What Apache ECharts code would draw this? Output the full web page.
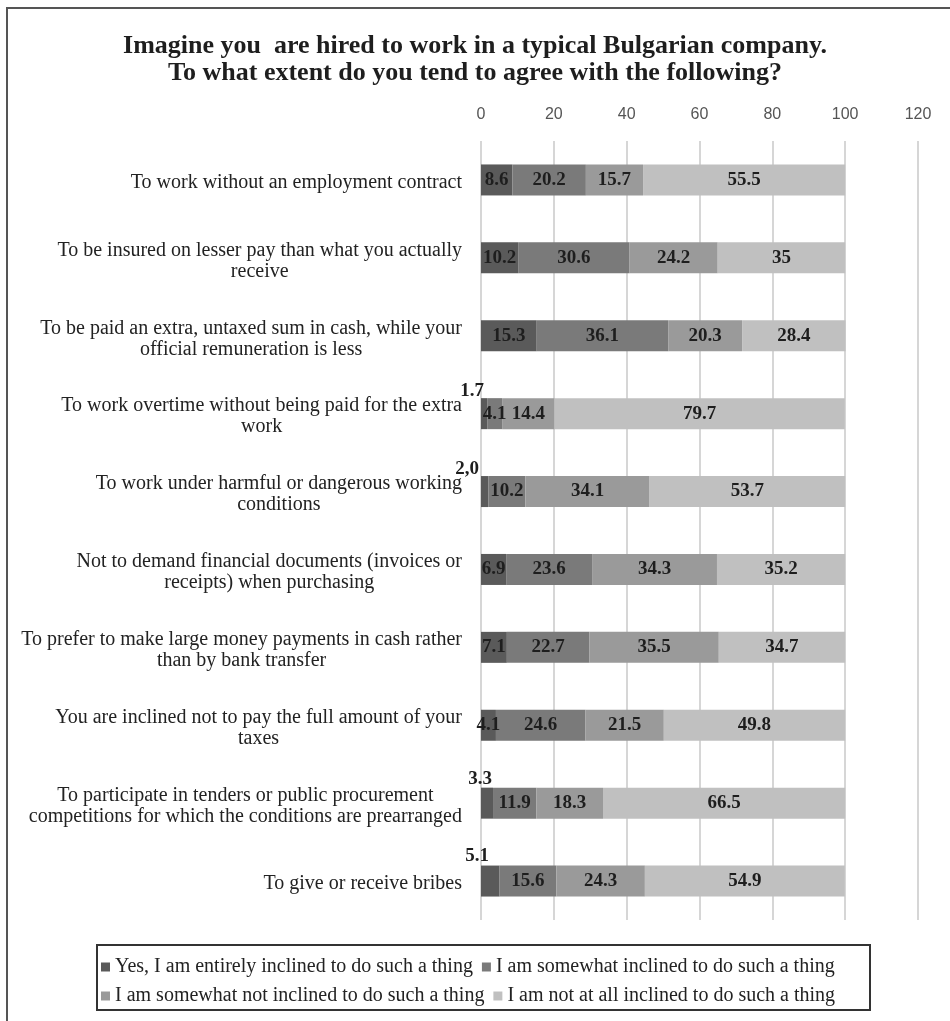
<!DOCTYPE html>
<html>
<head>
<meta charset="utf-8">
<script src="https://cdn.jsdelivr.net/npm/echarts@6/dist/echarts.min.js"></script>
<style>html,body{margin:0;padding:0;background:#fff;}#chart{width:950px;height:1021px;}</style>
</head>
<body>
<div id="chart"></div>
<script>
const categories = [
  'To work without an employment contract',
  'To be insured on lesser pay than what you actually\nreceive',
  'To be paid an extra, untaxed sum in cash, while your\nofficial remuneration is less',
  'To work overtime without being paid for the extra\nwork',
  'To work under harmful or dangerous working\nconditions',
  'Not to demand financial documents (invoices or\nreceipts) when purchasing',
  'To prefer to make large money payments in cash rather\nthan by bank transfer',
  'You are inclined not to pay the full amount of your\ntaxes',
  'To participate in tenders or public procurement\ncompetitions for which the conditions are prearranged',
  'To give or receive bribes'
];
const seriesNames = [
  'Yes, I am entirely inclined to do such a thing',
  'I am somewhat inclined to do such a thing',
  'I am somewhat not inclined to do such a thing',
  'I am not at all inclined to do such a thing'
];
const entirelyInclined = [8.6, 10.2, 15.3, 1.7, 2.0, 6.9, 7.1, 4.1, 3.3, 5.1];
const entirelyInclinedLabels = ['8.6', '10.2', '15.3', '1.7', '2,0', '6.9', '7.1', '4.1', '3.3', '5.1'];
const somewhatInclined = [20.2, 30.6, 36.1, 4.1, 10.2, 23.6, 22.7, 24.6, 11.9, 15.6];
const somewhatNotInclined = [15.7, 24.2, 20.3, 14.4, 34.1, 34.3, 35.5, 21.5, 18.3, 24.3];
const notAtAllInclined = [55.5, 35, 28.4, 79.7, 53.7, 35.2, 34.7, 49.8, 66.5, 54.9];
const xTicks = { min: 0, max: 120, interval: 20 };

const colors = ['#5a5a5a', '#7a7a7a', '#9a9a9a', '#c0c0c0'];
const SERIF = '"Liberation Serif", "Times New Roman", serif';
const labelFont = { fontFamily: SERIF, fontWeight: 'bold', fontSize: 19, color: '#1e1e1e' };

// label placement (style) for small first-segment values drawn above the bar
const aboveLabelPos = { 3: [-9, -7], 4: [-14, -7], 8: [-1, -9], 9: [-4, -9] };

const allValues = [entirelyInclined, somewhatInclined, somewhatNotInclined, notAtAllInclined];

const series = allValues.map((vals, si) => ({
  name: seriesNames[si],
  type: 'bar',
  stack: 'total',
  barWidth: 31,
  itemStyle: { color: colors[si] },
  label: Object.assign({
    show: true,
    position: 'inside',
    formatter: si === 0 ? (p => entirelyInclinedLabels[p.dataIndex]) : (p => String(p.value))
  }, labelFont),
  data: vals.map((v, i) => {
    if (si === 0 && aboveLabelPos[i]) {
      return {
        value: v,
        label: { position: aboveLabelPos[i], align: 'center', verticalAlign: 'middle' }
      };
    }
    return v;
  })
}));

const chart = echarts.init(document.getElementById('chart'), null, { renderer: 'canvas' });
chart.setOption({
  animation: false,
  backgroundColor: '#ffffff',
  title: {
    text: 'Imagine you  are hired to work in a typical Bulgarian company.\nTo what extent do you tend to agree with the following?',
    left: 'center',
    top: 28,
    textStyle: { fontFamily: SERIF, fontWeight: 'bold', fontSize: 26, lineHeight: 27, color: '#1e1e1e', align: 'center' }
  },
  grid: { left: 481, right: 32, top: 141, bottom: 101, containLabel: false },
  xAxis: {
    type: 'value',
    position: 'top',
    min: xTicks.min, max: xTicks.max, interval: xTicks.interval,
    axisLine: { show: false },
    axisTick: { show: false },
    axisLabel: { margin: 18, fontFamily: '"Liberation Sans", Arial, sans-serif', fontSize: 16, color: '#555' },
    splitLine: { show: true, lineStyle: { color: '#d6d6d6', width: 2 } }
  },
  yAxis: {
    type: 'category',
    inverse: true,
    data: categories,
    axisLine: { show: false },
    axisTick: { show: false },
    axisLabel: {
      margin: 19,
      align: 'right',
      padding: [6, 0, 0, 0],
      formatter: v => v.split('\n').map(l => '{c|' + l + '}').join('\n'),
      rich: { c: { align: 'center', fontFamily: SERIF, fontSize: 20, lineHeight: 21, color: '#222' } }
    }
  },
  legend: {
    data: seriesNames,
    left: 101,
    top: 957,
    width: 770,
    padding: 0,
    itemGap: 9,
    itemWidth: 9,
    itemHeight: 9,
    icon: 'rect',
    textStyle: { fontFamily: SERIF, fontSize: 20, color: '#222' }
  },
  graphic: [
    { type: 'rect', silent: true, shape: { x: 7, y: 8, width: 1000, height: 1100 }, style: { fill: 'none', stroke: '#555', lineWidth: 2 } },
    { type: 'rect', silent: true, shape: { x: 97, y: 945, width: 773, height: 65 }, style: { fill: 'none', stroke: '#333', lineWidth: 2 } }
  ],
  series: series
});
</script>
</body>
</html>
